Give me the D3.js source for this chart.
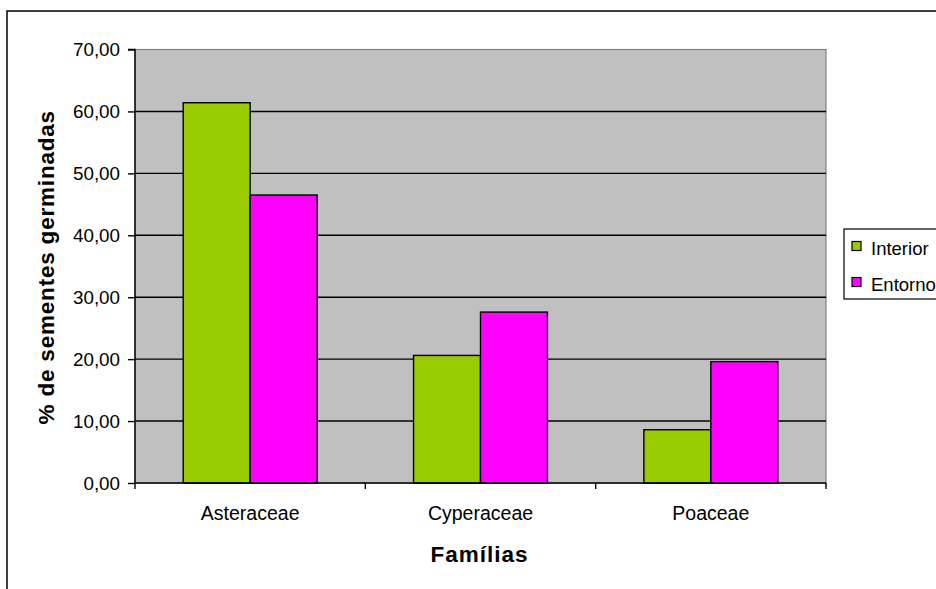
<!DOCTYPE html>
<html><head><meta charset="utf-8">
<script src="https://cdn.jsdelivr.net/npm/d3@7"></script>
<style>body{margin:0;background:#fff}svg{display:block}text{font-family:"Liberation Sans",Arial,sans-serif}</style>
</head><body><svg id="c" width="936" height="589"></svg>
<script>
const categories = ["Asteraceae", "Cyperaceae", "Poaceae"];
const seriesNames = ["Interior", "Entorno"];
const interior = [61.4, 20.6, 8.6];
const entorno = [46.5, 27.6, 19.6];
const yTicks = [0, 10, 20, 30, 40, 50, 60, 70];
const colors = {Interior: "#99CC00", Entorno: "#FF00FF"};

const svg = d3.select("#c");
const L = 135, R = 826, T = 49.5, B = 483;

// outer frame
svg.append("rect").attr("x", 7).attr("y", 11).attr("width", 1000).attr("height", 1000)
  .attr("fill", "#fff").attr("stroke", "#000").attr("stroke-width", 1.5);

const y = d3.scaleLinear().domain([0, 70]).range([B, T]);
const x0 = d3.scaleBand().domain(categories).range([L, R]).padding(0);
const x1 = d3.scaleBand().domain(seriesNames).range([0, x0.bandwidth()]).paddingInner(0).paddingOuter(0.72);

// plot area
svg.append("rect").attr("x", L).attr("y", T).attr("width", R - L).attr("height", B - T)
  .attr("fill", "#C0C0C0").attr("stroke", "#808080").attr("stroke-width", 1.2);

// gridlines
svg.append("g").selectAll("line").data(yTicks.filter(d => d > 0 && d < 70)).join("line")
  .attr("x1", L).attr("x2", R).attr("y1", d => y(d)).attr("y2", d => y(d))
  .attr("stroke", "#000").attr("stroke-width", 1.4);

// bars
const data = categories.map((c, i) => ({c, vals: [{s: "Interior", v: interior[i]}, {s: "Entorno", v: entorno[i]}]}));
svg.append("g").selectAll("g").data(data).join("g")
  .attr("transform", d => `translate(${x0(d.c)},0)`)
  .selectAll("rect").data(d => d.vals).join("rect")
  .attr("x", d => x1(d.s)).attr("width", x1.bandwidth())
  .attr("y", d => y(d.v)).attr("height", d => B - y(d.v))
  .attr("fill", d => colors[d.s]).attr("stroke", "#000").attr("stroke-width", 1.4);

// y axis
const fmt = d => d.toFixed(2).replace(".", ",");
const yAxis = d3.axisLeft(y).tickValues(yTicks).tickFormat(fmt).tickSize(7).tickPadding(8);
const gy = svg.append("g").attr("transform", `translate(${L},0)`).call(yAxis);
gy.select(".domain").attr("stroke", "#000").attr("stroke-width", 1.4).attr("d", `M-7,${T}H0V${B}`);
gy.selectAll(".tick line").attr("stroke", "#000").attr("stroke-width", 1.4);
gy.selectAll("text").attr("font-size", 18.8).attr("fill", "#000").attr("font-family", "Liberation Sans, Arial, sans-serif");

// x axis
const gx = svg.append("g").attr("transform", `translate(0,${B})`);
gx.append("line").attr("x1", L).attr("x2", R).attr("stroke", "#000").attr("stroke-width", 1.4);
const bounds = categories.map(c => x0(c)).concat([x0(categories[categories.length - 1]) + x0.bandwidth()]);
gx.selectAll("line.t").data(bounds).join("line").attr("class", "t")
  .attr("x1", d => d).attr("x2", d => d).attr("y1", 0).attr("y2", 6)
  .attr("stroke", "#000").attr("stroke-width", 1.4);
gx.selectAll("text").data(categories).join("text")
  .attr("x", d => x0(d) + x0.bandwidth() / 2).attr("y", 37)
  .attr("text-anchor", "middle").attr("font-size", 19.5).text(d => d);

// axis titles
svg.append("text").attr("x", (L + R) / 2 - 1).attr("y", 562).attr("text-anchor", "middle")
  .attr("font-size", 22.5).attr("font-weight", "bold").attr("letter-spacing", 1.0).text("Famílias");
svg.append("text").attr("transform", `translate(54,${(T + B) / 2 + 1}) rotate(-90)`).attr("text-anchor", "middle")
  .attr("font-size", 22.5).attr("font-weight", "bold").attr("letter-spacing", 0.8).text("% de sementes germinadas");

// legend
const lg = svg.append("g");
lg.append("rect").attr("x", 844).attr("y", 229).attr("width", 120).attr("height", 70)
  .attr("fill", "#fff").attr("stroke", "#000").attr("stroke-width", 1.2);
const items = lg.selectAll("g").data(seriesNames).join("g")
  .attr("transform", (d, i) => `translate(852,${241.5 + i * 36})`);
items.append("rect").attr("width", 9).attr("height", 9).attr("fill", d => colors[d]).attr("stroke", "#000").attr("stroke-width", 1.2);
items.append("text").attr("x", 19).attr("y", 13.5).attr("font-size", 18.5).text(d => d);
</script></body></html>
